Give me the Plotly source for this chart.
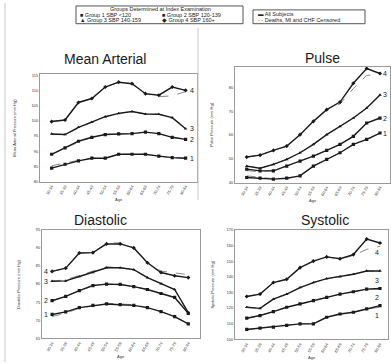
import plotly.graph_objects as go

ages = ["30-34", "35-39", "40-44", "45-49", "50-54", "55-59",
        "60-64", "65-69", "70-74", "75-79", "80-84"]
group_names = ["Group 1 SBP <120", "Group 2 SBP 120-139",
               "Group 3 SBP 140-159", "Group 4 SBP 160+"]
group_labels = ["1", "2", "3", "4"]

# Mean arterial pressure (mm Hg) - all subjects
map_g1 = [84.4, 85.7, 86.8, 87.7, 87.7, 89.0, 89.0, 89.0, 88.4, 87.9, 87.7]
map_g2 = [89.0, 91.1, 93.3, 94.6, 95.5, 95.7, 95.8, 96.3, 95.8, 94.6, 93.9]
map_g3 = [95.7, 95.5, 97.9, 99.6, 101.4, 102.5, 103.1, 102.3, 102.2, 101.1, 97.4]
map_g4 = [99.8, 100.3, 106.1, 107.4, 111.2, 112.8, 112.3, 109.0, 108.5, 111.2, 110.1]
# censored
map_g1_c = [85.2, 86.2, 87.0, 87.7, 87.7, 89.0, 89.0, 89.0, 88.4, 87.9, 87.7]
map_g2_c = [89.0, 91.0, 93.0, 94.6, 95.5, 95.7, 95.8, 96.3, 95.8, 94.6, 94.0]
map_g3_c = [95.5, 95.5, 97.6, 99.6, 101.4, 102.5, 103.1, 102.3, 102.2, 101.1, 97.8]
map_g4_c = [99.8, 100.3, 106.1, 107.4, 111.2, 112.8, 112.3, 109.0, 108.0, 108.3, 109.7]

# Pulse pressure
pp_g1 = [42.1, 41.8, 41.4, 41.8, 42.8, 46.9, 49.7, 52.5, 56.0, 58.1, 60.8]
pp_g2 = [45.6, 44.9, 44.9, 46.9, 49.0, 51.1, 53.5, 56.0, 59.4, 65.0, 67.1]
pp_g3 = [46.9, 46.0, 47.6, 49.7, 52.5, 56.0, 60.1, 63.6, 67.1, 71.3, 76.8]
pp_g4 = [50.7, 51.5, 53.5, 55.3, 60.1, 65.7, 70.6, 73.8, 81.7, 87.9, 85.8]
pp_g1_c = [42.8, 42.3, 41.6, 41.8, 42.8, 46.9, 49.7, 52.5, 56.0, 58.1, 60.2]
pp_g2_c = [45.0, 44.5, 45.2, 46.9, 49.0, 51.1, 53.5, 56.0, 59.4, 65.0, 67.1]
pp_g3_c = [46.9, 46.0, 47.6, 49.7, 52.5, 56.0, 60.1, 63.6, 67.1, 71.3, 76.8]
pp_g4_c = [50.7, 51.5, 53.5, 55.3, 60.1, 65.7, 70.6, 73.0, 79.5, 85.0, 85.5]

# Diastolic pressure
dbp_g1 = [71.6, 72.3, 73.5, 74.1, 74.5, 74.3, 74.1, 73.5, 72.4, 71.0, 69.0]
dbp_g2 = [75.4, 76.6, 78.2, 79.6, 80.0, 79.9, 79.3, 78.5, 77.4, 76.3, 71.9]
dbp_g3 = [80.8, 80.9, 82.1, 83.2, 84.5, 84.5, 84.0, 81.8, 80.1, 78.5, 72.1]
dbp_g4 = [83.5, 84.4, 88.6, 88.7, 91.1, 91.1, 90.0, 85.9, 83.2, 82.3, 81.8]
dbp_g1_c = [71.0, 72.0, 73.3, 74.1, 74.7, 74.5, 74.3, 73.5, 72.4, 71.0, 69.0]
dbp_g2_c = [75.4, 76.6, 78.2, 79.6, 80.0, 79.9, 79.3, 78.5, 77.4, 76.3, 71.9]
dbp_g3_c = [80.8, 81.2, 82.4, 83.6, 84.8, 84.5, 84.0, 81.8, 80.1, 78.5, 72.1]
dbp_g4_c = [83.5, 84.4, 88.6, 88.7, 91.4, 91.4, 90.0, 85.9, 83.6, 83.0, 82.6]

# Systolic pressure
sbp_g1 = [106.3, 107.2, 107.8, 108.9, 109.9, 109.9, 114.1, 116.2, 117.3, 119.4, 121.5]
sbp_g2 = [113.5, 115.2, 117.7, 120.5, 122.6, 124.7, 126.8, 128.9, 130.4, 132.1, 132.5]
sbp_g3 = [120.5, 119.8, 125.7, 128.9, 133.1, 136.3, 138.8, 140.1, 141.6, 143.7, 143.7]
sbp_g4 = [127.4, 128.9, 136.3, 138.4, 145.8, 150.0, 152.7, 151.5, 154.2, 164.1, 161.6]
sbp_g1_c = [106.3, 107.2, 107.8, 108.9, 109.9, 109.9, 114.1, 116.2, 117.3, 119.4, 120.5]
sbp_g2_c = [113.5, 115.2, 117.7, 120.5, 122.6, 124.7, 126.8, 128.9, 130.4, 132.1, 132.0]
sbp_g3_c = [120.5, 119.8, 126.2, 128.9, 133.1, 136.3, 138.8, 140.1, 141.6, 143.7, 143.2]
sbp_g4_c = [127.4, 128.9, 136.3, 138.4, 145.8, 150.0, 152.7, 151.5, 153.5, 157.5, 159.5]

panel_titles = ["Mean Arterial", "Pulse", "Diastolic", "Systolic"]
y_titles = ["Mean Arterial Pressure (mm Hg)", "Pulse Pressure (mm Hg)",
            "Diastolic Pressure (mm Hg)", "Systolic Pressure (mm Hg)"]
x_title = "Age"
legend_title = "Groups Determined at Index Examination"
legend_all = "All Subjects"
legend_cens = "Deaths, MI and CHF Censored"

W, H = 391, 364
FONT = "Liberation Sans, Arial, sans-serif"
INK = "#1a1a1a"
GREY = "#8a8a8a"
markers = ["square", "square", "triangle-up", "diamond"]

panels = [
    dict(all=[map_g1, map_g2, map_g3, map_g4], cens=[map_g1_c, map_g2_c, map_g3_c, map_g4_c],
         dom_px=(40, 197, 72, 181), xr=[-0.87, 10.85], yr=[80, 115.5], dt=5, tit_px=(105, 57),
         ytit_px=15, lab="right"),
    dict(all=[pp_g1, pp_g2, pp_g3, pp_g4], cens=[pp_g1_c, pp_g2_c, pp_g3_c, pp_g4_c],
         dom_px=(235, 390, 65, 182), xr=[-0.88, 10.75], yr=[40, 88.5], dt=10, tit_px=(322, 56),
         ytit_px=212, lab="right"),
    dict(all=[dbp_g1, dbp_g2, dbp_g3, dbp_g4], cens=[dbp_g1_c, dbp_g2_c, dbp_g3_c, dbp_g4_c],
         dom_px=(42, 200, 230, 340), xr=[-0.74, 10.86], yr=[65, 95], dt=5, tit_px=(100, 220),
         ytit_px=18, lab="left"),
    dict(all=[sbp_g1, sbp_g2, sbp_g3, sbp_g4], cens=[sbp_g1_c, sbp_g2_c, sbp_g3_c, sbp_g4_c],
         dom_px=(235, 388, 230, 341), xr=[-0.88, 10.6], yr=[100, 170], dt=10, tit_px=(325, 220),
         ytit_px=213, lab="below"),
]

fig = go.Figure()
annotations = []
shapes = []
layout_axes = {}


def note(x, y, text, font, xref="paper", yref="paper", xanchor="center", angle=0):
    annotations.append(dict(x=x, y=y, xref=xref, yref=yref, text=text, showarrow=False,
                            xanchor=xanchor, yanchor="middle", textangle=angle, font=font))


for i, p in enumerate(panels):
    n = "" if i == 0 else str(i + 1)
    xa, ya = "x" + n, "y" + n
    for g in range(4):
        fig.add_trace(go.Scatter(
            x=ages, y=p["cens"][g], xaxis=xa, yaxis=ya, mode="lines",
            line=dict(color=GREY, width=1, dash="dash"), showlegend=False,
            hoverinfo="skip"))
        fig.add_trace(go.Scatter(
            x=ages, y=p["all"][g], xaxis=xa, yaxis=ya, mode="lines+markers",
            line=dict(color=INK, width=1.4),
            marker=dict(symbol=markers[g], size=3.2, color=INK),
            name=group_names[g], showlegend=False))
        last = p["all"][g][-1]
        first = p["all"][g][0]
        lf = dict(size=7, color=INK, family=FONT)
        if p["lab"] == "right":
            note(p["xr"][1] - 0.35, last, group_labels[g], lf, xa, ya)
        elif p["lab"] == "left":
            note(-0.45, first, group_labels[g], lf, xa, ya)
        else:
            note(9.75, last - 6, group_labels[g], lf, xa, ya)
    x0, x1, y0, y1 = p["dom_px"]
    layout_axes["xaxis" + n] = dict(
        domain=[x0 / W, x1 / W], anchor=ya, type="category", range=p["xr"],
        tickangle=-60, tickfont=dict(size=4, color="#333", family=FONT),
        showline=True, mirror=True, linecolor="#9a9a9a", linewidth=1,
        showgrid=False, zeroline=False, ticks="")
    layout_axes["yaxis" + n] = dict(
        domain=[1 - y1 / H, 1 - y0 / H], anchor=xa, range=p["yr"], dtick=p["dt"],
        tickfont=dict(size=4, color="#333", family=FONT),
        showline=True, mirror=True, linecolor="#9a9a9a", linewidth=1,
        showgrid=False, zeroline=False, ticks="")
    tx, ty = p["tit_px"]
    note(tx / W, 1 - ty / H, panel_titles[i], dict(size=14, color=INK, family=FONT))
    note(p["ytit_px"] / W, 1 - ((y0 + y1) / 2) / H, y_titles[i],
         dict(size=4, color="#333", family=FONT), angle=-90)
    note(((x0 + x1) / 2) / W, 1 - (y1 + 18) / H, x_title,
         dict(size=4, color="#333", family=FONT))

# legend boxes (drawn as shapes + text)
shapes.append(dict(type="rect", xref="paper", yref="paper", x0=76 / W, x1=243 / W,
                   y0=1 - 21 / H, y1=1 - 3 / H, line=dict(color="#555", width=1)))
shapes.append(dict(type="rect", xref="paper", yref="paper", x0=253 / W, x1=365 / W,
                   y0=1 - 21 / H, y1=1 - 7 / H, line=dict(color="#555", width=1)))
LF = dict(size=5.5, color="#222", family=FONT)
note(160 / W, 1 - 6.5 / H, legend_title, LF)
sym = ["■", "■", "▲", "◆"]
pos = [(78, 12), (160, 12), (78, 17.5), (160, 17.5)]
for g in range(4):
    note(pos[g][0] / W, 1 - pos[g][1] / H, sym[g] + " " + group_names[g], LF, xanchor="left")
note(256 / W, 1 - 11 / H, "▬ " + legend_all, LF, xanchor="left")
note(256 / W, 1 - 17 / H, "- - " + legend_cens, LF, xanchor="left")

# scan borders
shapes.append(dict(type="line", xref="paper", yref="paper", x0=5 / W, x1=5 / W,
                   y0=0, y1=1, line=dict(color="#c8c8c8", width=1)))
shapes.append(dict(type="line", xref="paper", yref="paper", x0=198 / W, x1=198 / W,
                   y0=1 - 200 / H, y1=1 - 25 / H, line=dict(color="#c8c8c8", width=1)))

fig.update_layout(
    width=W, height=H, margin=dict(l=0, r=0, t=0, b=0),
    paper_bgcolor="white", plot_bgcolor="white",
    showlegend=False, annotations=annotations, shapes=shapes,
    font=dict(family=FONT), **layout_axes)

fig.write_html("out.html")
